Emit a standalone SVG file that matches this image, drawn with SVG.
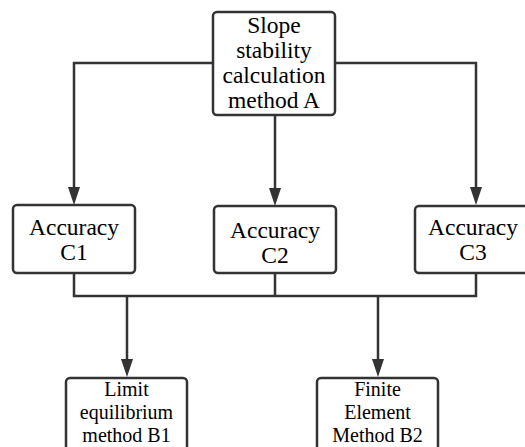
<svg xmlns="http://www.w3.org/2000/svg" width="525" height="447" viewBox="0 0 525 447">
<style>
.box{fill:#fff;stroke:#333;stroke-width:2.5}
.ln{fill:none;stroke:#333;stroke-width:2.5}
.ah{fill:#333}
text{font-family:'Liberation Serif','Times New Roman','DejaVu Serif',serif;font-size:23.5px;fill:#000;text-anchor:middle}
.b text{font-size:20px}
</style>
<rect width="525" height="447" fill="#fff"/>
<g id="connectors">
<path class="ln" d="M213,63 H74 V187"/>
<path class="ah" d="M68,187 L80,187 L74,205 Z"/>
<path class="ln" d="M335,63 H476 V187"/>
<path class="ah" d="M470,187 L482,187 L476,205 Z"/>
<path class="ln" d="M275,115 V188"/>
<path class="ah" d="M269,188 L281,188 L275,206 Z"/>
<path class="ln" d="M74,273 V296 H476 V273"/>
<path class="ln" d="M275,273 V296"/>
<path class="ln" d="M127,296 V360"/>
<path class="ah" d="M121,359 L133,359 L127,377 Z"/>
<path class="ln" d="M378,296 V360"/>
<path class="ah" d="M372,359 L384,359 L378,377 Z"/>
</g>
<g id="A">
<rect class="box" x="213" y="12" width="122" height="103" rx="4"/>
<text x="274" y="33">Slope</text>
<text x="274" y="58">stability</text>
<text x="274" y="83">calculation</text>
<text x="274" y="108">method A</text>
</g>
<g id="C1">
<rect class="box" x="13" y="205" width="122" height="68" rx="4"/>
<text x="74" y="235">Accuracy</text>
<text x="74" y="260">C1</text>
</g>
<g id="C2">
<rect class="box" x="214" y="206" width="122" height="67" rx="4"/>
<text x="275" y="238">Accuracy</text>
<text x="275" y="263">C2</text>
</g>
<g id="C3">
<rect class="box" x="415" y="206" width="122" height="67" rx="4"/>
<text x="473" y="235">Accuracy</text>
<text x="473" y="260">C3</text>
</g>
<g id="B1" class="b">
<rect class="box" x="66" y="378" width="121" height="90" rx="4"/>
<text x="126.500" y="396">Limit</text>
<text x="126.500" y="419">equilibrium</text>
<text x="126.500" y="442">method B1</text>
</g>
<g id="B2" class="b">
<rect class="box" x="317" y="378" width="121" height="90" rx="4"/>
<text x="377.500" y="396">Finite</text>
<text x="377.500" y="419">Element</text>
<text x="377.500" y="442">Method B2</text>
</g>
</svg>
